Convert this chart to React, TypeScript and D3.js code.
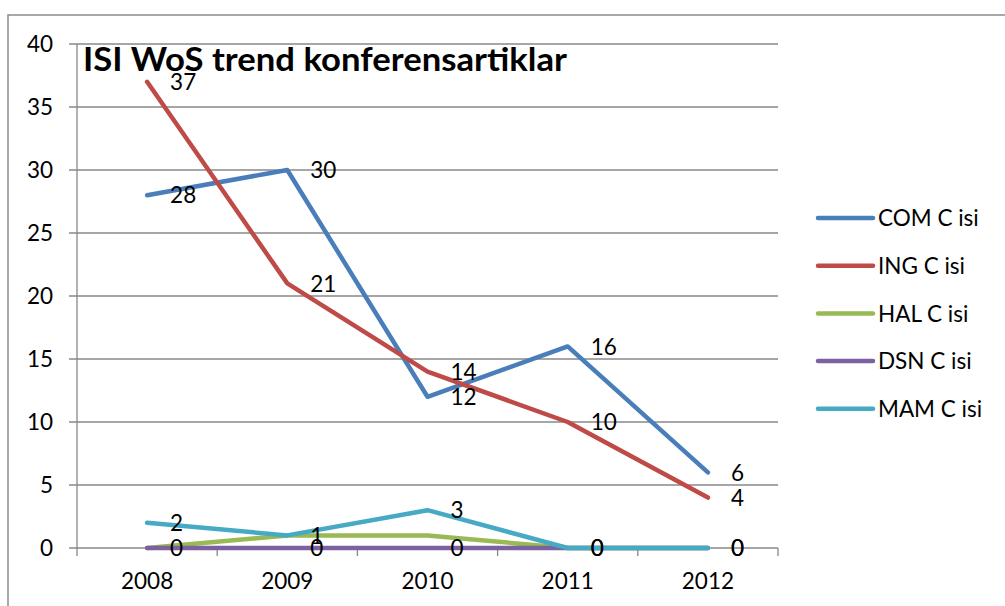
import * as d3 from "d3";
import React, { useEffect, useRef } from "react";

const years = ["2008", "2009", "2010", "2011", "2012"];
const comC = [28, 30, 12, 16, 6];
const ingC = [37, 21, 14, 10, 4];
const halC = [0, 1, 1, 0, 0];
const dsnC = [0, 0, 0, 0, 0];
const mamC = [2, 1, 3, 0, 0];
const yTicks = [0, 5, 10, 15, 20, 25, 30, 35, 40];

const series = [
  { name: "COM C isi", values: comC, color: "#4a7ebb", labels: true },
  { name: "ING C isi", values: ingC, color: "#be4b48", labels: true },
  { name: "HAL C isi", values: halC, color: "#98b954", labels: false },
  { name: "DSN C isi", values: dsnC, color: "#7d60a0", labels: true },
  { name: "MAM C isi", values: mamC, color: "#46aac5", labels: true },
];

const width = 1005;
const height = 606;
const margin = { top: 44, left: 77, right: 227, bottom: 58 };
const font = "Lato, 'Open Sans', sans-serif";
const fs = 22.5;

export default function App() {
  const ref = useRef<SVGSVGElement>(null);

  useEffect(() => {
    const svg = d3.select(ref.current);
    svg.selectAll("*").remove();

    const x = d3
      .scaleBand()
      .domain(years)
      .range([margin.left, width - margin.right]);
    const y = d3
      .scaleLinear()
      .domain([0, 40])
      .range([height - margin.bottom, margin.top]);
    const cx = (d: string) => (x(d) as number) + x.bandwidth() / 2;

    // outer chart border (only top and left visible)
    svg
      .append("path")
      .attr("d", `M8,${height} L8,15 L${width},15`)
      .attr("fill", "none")
      .attr("stroke", "#8c8c8c")
      .attr("stroke-width", 1.5);

    // gridlines
    svg
      .append("g")
      .selectAll("line")
      .data(yTicks)
      .join("line")
      .attr("x1", margin.left - 8)
      .attr("x2", width - margin.right)
      .attr("y1", (d) => y(d))
      .attr("y2", (d) => y(d))
      .attr("stroke", "#888")
      .attr("stroke-width", 1.3);

    // y axis line
    svg
      .append("line")
      .attr("x1", margin.left)
      .attr("x2", margin.left)
      .attr("y1", y(40))
      .attr("y2", y(0) + 8)
      .attr("stroke", "#888")
      .attr("stroke-width", 1.3);

    // x tick marks at band edges
    const edges = years.map((d) => x(d) as number).concat([width - margin.right]);
    svg
      .append("g")
      .selectAll("line")
      .data(edges.slice(1))
      .join("line")
      .attr("x1", (d) => d)
      .attr("x2", (d) => d)
      .attr("y1", y(0))
      .attr("y2", y(0) + 8)
      .attr("stroke", "#888")
      .attr("stroke-width", 1.3);

    // y labels
    svg
      .append("g")
      .selectAll("text")
      .data(yTicks)
      .join("text")
      .attr("x", 53)
      .attr("y", (d) => y(d))
      .attr("dy", "0.36em")
      .attr("text-anchor", "end")
      .attr("font-family", font)
      .attr("font-size", fs)
      .text((d) => d);

    // x labels
    svg
      .append("g")
      .selectAll("text")
      .data(years)
      .join("text")
      .attr("x", (d) => cx(d))
      .attr("y", 589)
      .attr("text-anchor", "middle")
      .attr("font-family", font)
      .attr("font-size", fs)
      .text((d) => d);

    const line = d3
      .line<number>()
      .x((_, i) => cx(years[i]))
      .y((d) => y(d));

    series.forEach((s) => {
      svg
        .append("path")
        .attr("d", line(s.values))
        .attr("fill", "none")
        .attr("stroke", s.color)
        .attr("stroke-width", 4.5)
        .attr("stroke-linecap", "round")
        .attr("stroke-linejoin", "round");
    });

    series.forEach((s) => {
      if (!s.labels) return;
      svg
        .append("g")
        .selectAll("text")
        .data(s.values)
        .join("text")
        .attr("x", (_, i) => cx(years[i]) + 23)
        .attr("y", (d) => y(d))
        .attr("dy", "0.36em")
        .attr("font-family", font)
        .attr("font-size", fs)
        .text((d) => d);
    });

    // title
    svg
      .append("text")
      .attr("x", 83)
      .attr("y", 71)
      .attr("font-family", font)
      .attr("font-weight", "bold")
      .attr("font-size", 32)
      .attr("textLength", 484)
      .attr("lengthAdjust", "spacingAndGlyphs")
      .text("ISI WoS trend konferensartiklar");

    // legend
    const legend = svg
      .append("g")
      .selectAll("g")
      .data(series)
      .join("g")
      .attr("transform", (_, i) => `translate(818,${218 + i * 47.7})`);
    legend
      .append("line")
      .attr("x1", 0)
      .attr("x2", 55)
      .attr("stroke", (d) => d.color)
      .attr("stroke-width", 4.5)
      .attr("stroke-linecap", "round");
    legend
      .append("text")
      .attr("x", 60)
      .attr("dy", "0.36em")
      .attr("font-family", font)
      .attr("font-size", fs)
      .text((d) => d.name);
  }, []);

  return (
    <svg
      ref={ref}
      width={width}
      height={height}
      style={{ position: "absolute", left: 0, top: 0, background: "#fff" }}
    />
  );
}
